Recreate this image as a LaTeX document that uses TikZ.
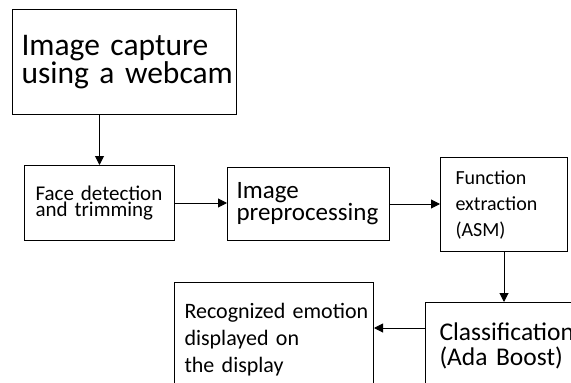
\documentclass[tikz,border=0pt]{standalone}
\usepackage{fontspec}
\setmainfont{Carlito}
\usetikzlibrary{arrows.meta}
\tikzset{
  box/.style={draw, line width=1pt, anchor=north west, align=left, inner ysep=0pt},
  arr/.style={line width=1pt, -{Triangle[length=9pt,width=9pt]}},
}
\begin{document}
\begin{tikzpicture}[x=1pt,y=-1pt]
\useasboundingbox (0,0) rectangle (571,383);
\clip (0,0) rectangle (571,383);
\node[box, minimum width=224pt, minimum height=105pt, inner xsep=9pt, text width=206pt,
  font=\fontsize{31.5}{26.5}\selectfont] (b1) at (12,9) {\mbox{Image capture}\\\mbox{using a webcam}};
\node[box, minimum width=150pt, minimum height=75pt, inner xsep=11pt, text width=128pt,
  font=\fontsize{21}{16}\selectfont] (b2) at (24,165) {\mbox{Face detection}\\\mbox{and trimming}};
\node[box, minimum width=162pt, minimum height=73pt, inner xsep=9pt, text width=144pt,
  font=\fontsize{25}{22}\selectfont] (b3) at (227,167) {\mbox{Image}\\\mbox{preprocessing}};
\node[box, minimum width=127pt, minimum height=94pt, inner xsep=15pt, text width=97pt,
  font=\fontsize{20}{26}\selectfont] (b4) at (440,157) {\mbox{Function}\\\mbox{extraction}\\\mbox{(ASM)}};
\node[box, minimum width=190pt, minimum height=86pt, inner xsep=14pt, text width=162pt,
  font=\fontsize{25.5}{25}\selectfont] (b5) at (425,302) {\mbox{Classification}\\\mbox{(Ada Boost)}};
\node[box, minimum width=199pt, minimum height=114pt, inner xsep=10pt, text width=179pt,
  font=\fontsize{22}{27}\selectfont] (b6) at (174,282) {\mbox{Recognized emotion}\\\mbox{displayed on}\\\mbox{the display}};
\coordinate (m) at (0,328);
\draw[arr] (b1.south -| b2.north) -- (b2.north);
\draw[arr] (b2.east) -- (b2.east -| b3.west);
\draw[arr] (b3.east) -- (b3.east -| b4.west);
\draw[arr] (b4.south) -- (b4.south |- b5.north);
\draw[arr] (b5.west |- m) -- (b6.east |- m);
\end{tikzpicture}
\end{document}
